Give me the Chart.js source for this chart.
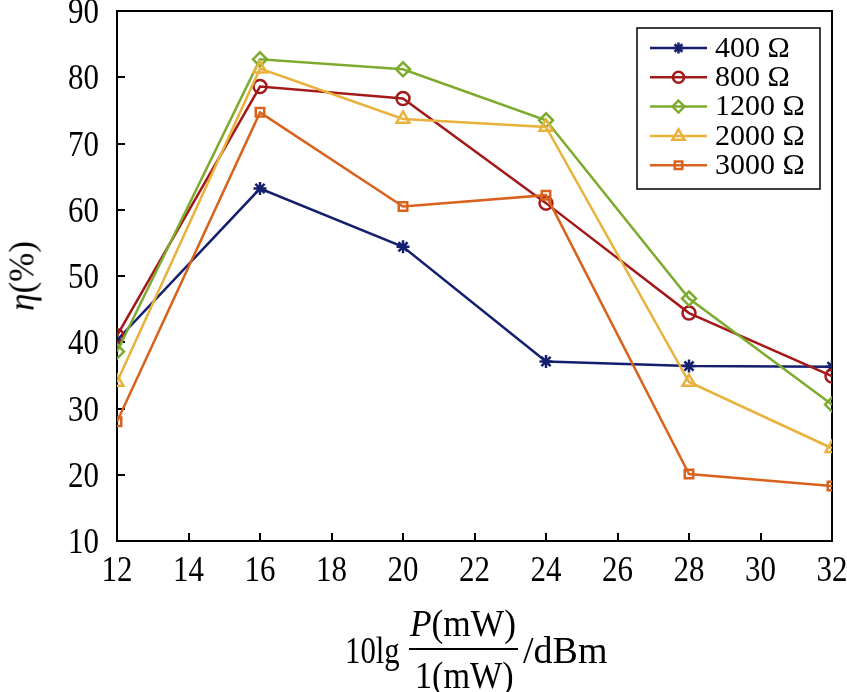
<!DOCTYPE html>
<html>
<head>
<meta charset="utf-8">
<script src="https://cdn.jsdelivr.net/npm/chart.js@4.4.1/dist/chart.umd.min.js"></script>
<style>
  html, body { margin: 0; padding: 0; background: #fff; }
  #wrap { position: relative; width: 847px; height: 692px; overflow: hidden; }
  #c { position: absolute; left: 0; top: 0; }
  .t { position: absolute; font-family: "Liberation Serif", "Times New Roman", serif; font-size: 38px; line-height: 38px; color: #000; white-space: nowrap; transform-origin: 0 0; }
  #ytitle { font-size: 35px; line-height: 35px; left: 22px; top: 276px; transform-origin: 50% 50%; transform: translate(-50%, -50%) rotate(-90deg); }
  #fracline { position: absolute; left: 409px; top: 648px; width: 109px; height: 2px; background: #000; }
</style>
</head>
<body>
<div id="wrap">
  <canvas id="c" width="847" height="692"></canvas>
  <div class="t" id="ytitle"><i>η</i>(%)</div>
  <div class="t" style="left:345px; top:631px; transform:scaleX(0.81);">10lg</div>
  <div class="t" style="left:410px; top:604px; transform:scaleX(0.93);"><i>P</i>(mW)</div>
  <div id="fracline"></div>
  <div class="t" style="left:415px; top:656px; transform:scaleX(0.9);">1(mW)</div>
  <div class="t" style="left:523px; top:631px;">/dBm</div>
</div>
<script>
// ---- data ----
const xValues = [12, 16, 20, 24, 28, 32];
const seriesNames = ['400 Ω', '800 Ω', '1200 Ω', '2000 Ω', '3000 Ω'];
const r400  = [40.3, 63.2, 54.4, 37.1, 36.4, 36.3];
const r800  = [41.0, 78.6, 76.8, 61.0, 44.4, 34.9];
const r1200 = [38.6, 82.7, 81.2, 73.5, 46.6, 30.6];
const r2000 = [34.0, 81.3, 73.7, 72.5, 34.0, 24.0];
const r3000 = [28.0, 74.7, 60.5, 62.2, 20.1, 18.3];
const xTicks = [12, 14, 16, 18, 20, 22, 24, 26, 28, 30, 32];
const yTicks = [10, 20, 30, 40, 50, 60, 70, 80, 90];

const colors = ['#14206e', '#a31a1a', '#7cab2e', '#e8b23c', '#d9621c'];
const styles = ['star', 'circle', 'rectRot', 'triangle', 'rect'];
const radii  = [6.5, 6.5, 7, 7.5, 6];
const allSeries = [r400, r800, r1200, r2000, r3000];

const datasets = allSeries.map((vals, i) => ({
  label: seriesNames[i],
  data: xValues.map((x, j) => ({ x: x, y: vals[j] })),
  borderColor: colors[i],
  backgroundColor: 'rgba(0,0,0,0)',
  pointBorderColor: colors[i],
  pointBackgroundColor: 'rgba(0,0,0,0)',
  pointStyle: styles[i],
  pointRadius: radii[i],
  pointBorderWidth: 2.5,
  borderWidth: 2.5,
  tension: 0,
  fill: false,
  order: 5 - i
}));

function drawMarker(ctx, style, x, y, r, color) {
  ctx.save();
  ctx.strokeStyle = color;
  ctx.lineWidth = 2.5;
  ctx.beginPath();
  if (style === 'star') {
    for (let k = 0; k < 4; k++) {
      const a = k * Math.PI / 4;
      ctx.moveTo(x - r * Math.cos(a), y - r * Math.sin(a));
      ctx.lineTo(x + r * Math.cos(a), y + r * Math.sin(a));
    }
  } else if (style === 'circle') {
    ctx.arc(x, y, r, 0, Math.PI * 2);
  } else if (style === 'rectRot') {
    ctx.moveTo(x, y - r); ctx.lineTo(x + r, y); ctx.lineTo(x, y + r); ctx.lineTo(x - r, y); ctx.closePath();
  } else if (style === 'triangle') {
    ctx.moveTo(x, y - r); ctx.lineTo(x + r * 0.95, y + r * 0.6); ctx.lineTo(x - r * 0.95, y + r * 0.6); ctx.closePath();
  } else if (style === 'rect') {
    const s = r * 0.75;
    ctx.rect(x - s, y - s, 2 * s, 2 * s);
  }
  ctx.stroke();
  ctx.restore();
}

const TICK_FONT = '36px "Liberation Serif", serif';
const TICK_SX = 0.86;

const framePlugin = {
  id: 'frame',
  beforeDatasetsDraw(chart) {
    const { ctx, chartArea: a, scales } = chart;
    ctx.save();
    ctx.strokeStyle = '#000';
    ctx.lineWidth = 2;
    ctx.beginPath();
    xTicks.forEach(v => {
      const px = Math.round(scales.x.getPixelForValue(v));
      ctx.moveTo(px, a.bottom); ctx.lineTo(px, a.bottom - 8);
    });
    yTicks.forEach(v => {
      const py = Math.round(scales.y.getPixelForValue(v));
      ctx.moveTo(a.left, py); ctx.lineTo(a.left + 8, py);
    });
    ctx.stroke();
    ctx.strokeRect(a.left, a.top, a.right - a.left, a.bottom - a.top);

    // tick labels (scale-driven positions)
    ctx.fillStyle = '#000';
    ctx.font = TICK_FONT;
    ctx.textBaseline = 'alphabetic';
    xTicks.forEach(v => {
      const px = scales.x.getPixelForValue(v);
      ctx.save();
      ctx.translate(px, a.bottom + 40);
      ctx.scale(TICK_SX, 1);
      ctx.textAlign = 'center';
      ctx.fillText(String(v), 0, 0);
      ctx.restore();
    });
    yTicks.forEach(v => {
      const py = scales.y.getPixelForValue(v);
      ctx.save();
      ctx.translate(a.left - 18, py + 12);
      ctx.scale(TICK_SX, 1);
      ctx.textAlign = 'right';
      ctx.fillText(String(v), 0, 0);
      ctx.restore();
    });
    ctx.restore();
  }
};

const legendPlugin = {
  id: 'boxLegend',
  afterDraw(chart) {
    const ctx = chart.ctx;
    const bx = 637, by = 28, bw = 183, bh = 161;
    ctx.save();
    ctx.fillStyle = '#fff';
    ctx.fillRect(bx, by, bw, bh);
    ctx.strokeStyle = '#000';
    ctx.lineWidth = 1.5;
    ctx.strokeRect(bx, by, bw, bh);
    ctx.font = '30px "Liberation Serif", serif';
    ctx.textBaseline = 'middle';
    seriesNames.forEach((name, i) => {
      const y = 48 + i * 29.3;
      ctx.strokeStyle = colors[i];
      ctx.lineWidth = 2.5;
      ctx.beginPath();
      ctx.moveTo(650, y); ctx.lineTo(707, y);
      ctx.stroke();
      drawMarker(ctx, styles[i], 678.5, y, radii[i] - 1, colors[i]);
      ctx.fillStyle = '#000';
      ctx.fillText(name, 715, y + 1);
    });
    ctx.restore();
  }
};

new Chart(document.getElementById('c'), {
  type: 'line',
  data: { datasets: datasets },
  options: {
    responsive: false,
    animation: false,
    devicePixelRatio: 1,
    layout: { padding: { left: 0, right: 15, top: 11, bottom: 0 } },
    plugins: { legend: { display: false }, tooltip: { enabled: false } },
    scales: {
      x: {
        type: 'linear',
        min: 12, max: 32,
        afterBuildTicks: (s) => { s.ticks = xTicks.map(v => ({ value: v })); },
        grid: { display: false, drawTicks: false },
        border: { display: false },
        ticks: { display: false },
        afterFit: (s) => { s.height = 151; s.paddingLeft = 0; s.paddingRight = 0; }
      },
      y: {
        min: 10, max: 90,
        afterBuildTicks: (s) => { s.ticks = yTicks.map(v => ({ value: v })); },
        grid: { display: false, drawTicks: false },
        border: { display: false },
        ticks: { display: false },
        afterFit: (s) => { s.width = 117; s.paddingTop = 0; s.paddingBottom = 0; }
      }
    }
  },
  plugins: [framePlugin, legendPlugin]
});
</script>
</body>
</html>
